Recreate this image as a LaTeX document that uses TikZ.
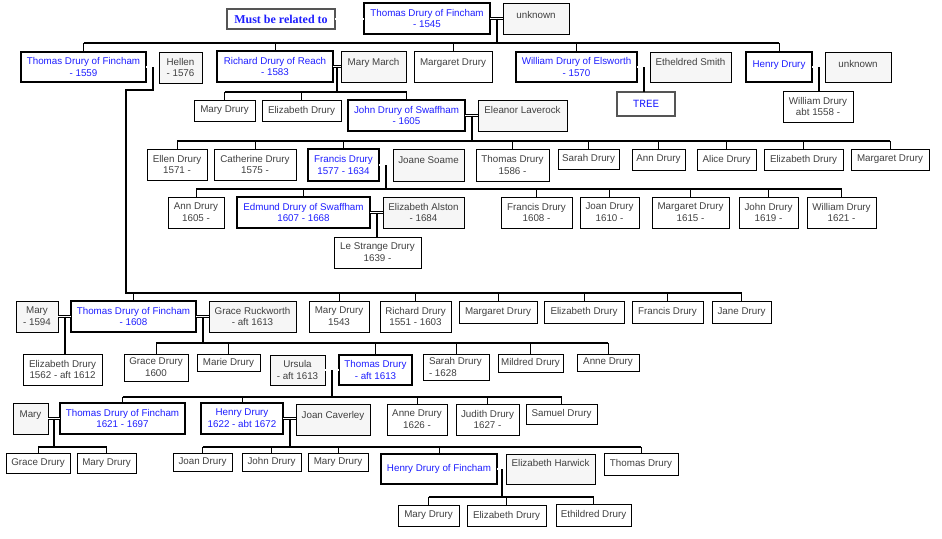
\documentclass[tikz,border=0pt]{standalone}
\usepackage{fontspec}
\setmainfont{Liberation Sans}
\newfontfamily\serifbf{Liberation Serif}
\newfontfamily\monofam{Liberation Mono}
\usetikzlibrary{calc}
\definecolor{blueT}{RGB}{30,30,255}
\definecolor{txtg}{RGB}{64,64,64}
\definecolor{boxg}{RGB}{85,85,85}
\definecolor{spf}{RGB}{246,246,246}
\newcommand\pers[7]{%
  \pgfmathsetmacro\pw{#5-#3}%
  \pgfmathsetmacro\ph{#6-#4}%
  \node[#1, minimum width=\pw pt, minimum height=\ph pt, anchor=north west] (#2) at (#3,#4) {#7};}
\newcommand\perst[8]{%
  \pers{#1}{#2}{#3}{#4}{#5}{#6}{}%
  \node[#1, draw=none, fill=none, path picture={}, anchor=base] (#2-t) at ([yshift=-#7pt]#2.north) {#8};}
\begin{document}
\begin{tikzpicture}[x=1pt,y=-1pt,
  base/.style={draw=black, line width=1pt, inner sep=0pt, outer sep=0pt, align=center,
    font=\fontsize{9.8}{11.8}\selectfont, text=txtg},
  norm/.style={base, fill=white},
  main/.style={base, line width=1.1pt, text=blueT, fill=white,
    path picture={\draw[black, line width=1.8pt]
      (path picture bounding box.south west) -- (path picture bounding box.south east)
      -- (path picture bounding box.north east);}},
  spouse/.style={base, fill=spf},
  mustbox/.style={base, draw=boxg, line width=2pt, fill=white, text=blueT,
    font=\serifbf\bfseries\fontsize{12}{14}\selectfont},
  treebox/.style={base, draw=boxg, line width=2pt, fill=white, text=blueT,
    font=\monofam\fontsize{11}{13}\selectfont},
  marr/.style={draw=black, double=white, line width=0.8pt, double distance=1.2pt},
  stem/.style={draw=black, line width=2pt, line join=miter},
  drop/.style={draw=black, line width=1pt}]
\useasboundingbox (0,0) rectangle (942,538);
\fill[white] (0,0) rectangle (942,538);

% ---- generation 1
\pers{mustbox}{must}{227}{9}{335}{29}{Must be related to}
\pers{main}{t1545}{364}{3}{490}{34}{Thomas Drury of Fincham\\- 1545}
\perst{spouse}{unk1}{503}{3}{569}{34}{15}{unknown}

% ---- generation 2
\pers{main}{t1559}{21}{52}{146}{82}{Thomas Drury of Fincham\\- 1559}
\pers{spouse}{hellen}{159}{52}{202}{83}{Hellen\\- 1576}
\pers{main}{richard}{217}{51}{333}{82}{Richard Drury of Reach\\- 1583}
\perst{spouse}{mmarch}{341}{51}{406}{82}{14}{Mary March}
\perst{norm}{margA}{414}{51}{492}{82}{14}{Margaret Drury}
\pers{main}{william}{516}{52}{637}{82}{William Drury of Elsworth\\- 1570}
\perst{spouse}{ethel}{650}{52}{731}{82}{13}{Etheldred Smith}
\perst{main}{henry}{746}{52}{812}{82}{15}{Henry Drury}
\perst{spouse}{unk2}{825}{52}{891}{82}{15}{unknown}
\pers{treebox}{tree}{617}{92}{675}{116}{TREE}
\pers{norm}{wm1558}{783}{91}{853}{122}{William Drury\\abt 1558 -}

% ---- generation 3
\pers{norm}{maryD1}{194}{100}{255}{121}{Mary Drury}
\pers{norm}{elizD1}{262}{100}{341}{121}{Elizabeth Drury}
\pers{main}{john}{348}{100}{465}{131}{John Drury of Swaffham\\- 1605}
\perst{spouse}{eleanor}{478}{100}{567}{131}{13}{Eleanor Laverock}

\pers{norm}{ellen}{147}{149}{207}{180}{Ellen Drury\\1571 -}
\pers{norm}{cath}{214}{149}{296}{180}{Catherine Drury\\1575 -}
\pers{main}{francis}{308}{149}{379}{181}{Francis Drury\\1577 - 1634}
\perst{spouse}{joane}{393}{149}{464}{181}{14}{Joane Soame}
\pers{norm}{thom86}{476}{149}{549}{181}{Thomas Drury\\1586 -}
\pers{norm}{sarah}{558}{149}{619}{169}{Sarah Drury}
\pers{norm}{annA}{632}{149}{685}{170}{Ann Drury}
\pers{norm}{alice}{697}{149}{756}{170}{Alice Drury}
\pers{norm}{elizA}{764}{149}{843}{170}{Elizabeth Drury}
\pers{norm}{margB}{851}{149}{929}{170}{Margaret Drury}

\pers{norm}{annB}{168}{197}{224}{228}{Ann Drury\\1605 -}
\pers{main}{edmund}{237}{197}{370}{228}{Edmund Drury of Swaffham\\1607 - 1668}
\pers{spouse}{alston}{383}{197}{464}{228}{Elizabeth Alston\\- 1684}
\pers{norm}{francB}{501}{197}{572}{228}{Francis Drury\\1608 -}
\pers{norm}{joanA}{580}{197}{639}{228}{Joan Drury\\1610 -}
\pers{norm}{margC}{652}{197}{729}{228}{Margaret Drury\\1615 -}
\pers{norm}{johnB}{739}{197}{798}{228}{John Drury\\1619 -}
\pers{norm}{willB}{807}{197}{876}{228}{William Drury\\1621 -}
\pers{norm}{lestr}{334}{237}{421}{268}{Le Strange Drury\\1639 -}

% ---- Fincham line
\pers{spouse}{maryS}{16}{301}{58}{332}{Mary\\- 1594}
\pers{main}{t1608}{71}{301}{196}{332}{Thomas Drury of Fincham\\- 1608}
\pers{spouse}{grace}{209}{301}{296}{332}{Grace Ruckworth\\- aft 1613}
\pers{norm}{mary43}{309}{301}{369}{332}{Mary Drury\\1543}
\pers{norm}{rich51}{380}{301}{451}{332}{Richard Drury\\1551 - 1603}
\pers{norm}{margD}{459}{301}{537}{323}{Margaret Drury}
\pers{norm}{elizB}{544}{301}{624}{323}{Elizabeth Drury}
\pers{norm}{francC}{632}{301}{703}{323}{Francis Drury}
\pers{norm}{jane}{712}{301}{771}{323}{Jane Drury}

\pers{norm}{eliz62}{23}{354}{102}{385}{Elizabeth Drury\\1562 - aft 1612}
\pers{norm}{graceD}{124}{354}{188}{381}{Grace Drury\\1600}
\pers{norm}{marie}{197}{354}{260}{371}{Marie Drury}
\pers{spouse}{ursula}{270}{355}{325}{385}{Ursula\\- aft 1613}
\pers{main}{thom13}{339}{355}{412}{385}{Thomas Drury\\- aft 1613}
\pers{norm}{sarah28}{423}{354}{489}{380}{}
\node[norm, draw=none, fill=none, anchor=west, align=left] (sarah28-t) at ([xshift=6pt]sarah28.west) {Sarah Drury\\- 1628};
\pers{norm}{mildred}{498}{354}{563}{372}{Mildred Drury}
\pers{norm}{anneA}{577}{354}{639}{371}{Anne Drury}

\perst{spouse}{maryT}{13}{403}{48}{434}{14}{Mary}
\pers{main}{t1621}{60}{403}{185}{434}{Thomas Drury of Fincham\\1621 - 1697}
\pers{main}{h1622}{201}{403}{283}{434}{Henry Drury\\1622 - abt 1672}
\perst{spouse}{joanC}{296}{404}{370}{435}{14}{Joan Caverley}
\pers{norm}{anneB}{387}{404}{447}{435}{Anne Drury\\1626 -}
\pers{norm}{judith}{456}{404}{519}{435}{Judith Drury\\1627 -}
\pers{norm}{samuel}{526}{404}{597}{424}{Samuel Drury}

\pers{norm}{graceE}{6}{453}{70}{473}{Grace Drury}
\pers{norm}{maryE}{77}{453}{136}{473}{Mary Drury}
\pers{norm}{joanD}{173}{453}{232}{471}{Joan Drury}
\pers{norm}{johnD}{242}{453}{301}{471}{John Drury}
\pers{norm}{maryF}{308}{453}{368}{471}{Mary Drury}
\pers{main}{hfinch}{381}{454}{497}{484}{Henry Drury of Fincham}
\perst{spouse}{harwick}{506}{454}{595}{484}{12}{Elizabeth Harwick}
\pers{norm}{thomD}{604}{453}{678}{475}{Thomas Drury}

\pers{norm}{maryG}{398}{505}{459}{526}{Mary Drury}
\pers{norm}{elizC}{467}{505}{546}{526}{Elizabeth Drury}
\pers{norm}{ethil}{556}{504}{631}{526}{Ethildred Drury}

% ---- connectors
\draw[marr] (must.east) -- (must.east -| t1545.west);

% Thomas 1545 family
\draw[marr] (t1545.east) -- (t1545.east -| unk1.west);
\coordinate (mA) at ($(t1545.east)!0.5!(t1545.east -| unk1.west)$);
\draw[stem] (mA) -- (mA |- 0,43);
\draw[stem] (t1559.north |- 0,43) -- (henry.north |- 0,43);
\foreach \c in {t1559,richard,margA,william,henry} \draw[drop] (\c.north |- 0,43) -- (\c.north);

% Thomas 1559 + Hellen
\draw[marr] (t1559.east) -- (t1559.east -| hellen.west);
\coordinate (mB) at ($(t1559.east)!0.5!(t1559.east -| hellen.west)$);
\coordinate (bendB) at (126,90);
\draw[stem] (mB) -- (mB |- bendB) -- (bendB) -- (bendB |- 0,293) -- (jane.north |- 0,293);
\foreach \c in {t1608,mary43,rich51,margD,elizB,francC,jane} \draw[drop] (\c.north |- 0,293) -- (\c.north);

% Richard + Mary March
\draw[marr] (richard.east) -- (richard.east -| mmarch.west);
\coordinate (mC) at ($(richard.east)!0.5!(richard.east -| mmarch.west)$);
\draw[stem] (mC) -- (mC |- 0,92);
\draw[stem] (maryD1.north |- 0,92) -- (john.north |- 0,92);
\foreach \c in {maryD1,elizD1,john} \draw[drop] (\c.north |- 0,92) -- (\c.north);

% William + Etheldred
\draw[marr] (william.east) -- (william.east -| ethel.west);
\coordinate (mD) at ($(william.east)!0.5!(william.east -| ethel.west)$);
\draw[stem] (mD) -- (mD |- tree.north);

% Henry + unknown
\draw[marr] (henry.east) -- (henry.east -| unk2.west);
\coordinate (mE) at ($(henry.east)!0.5!(henry.east -| unk2.west)$);
\draw[stem] (mE) -- (mE |- wm1558.north);

% John + Eleanor
\draw[marr] (john.east) -- (john.east -| eleanor.west);
\coordinate (mF) at ($(john.east)!0.5!(john.east -| eleanor.west)$);
\draw[stem] (mF) -- (mF |- 0,141);
\draw[stem] (ellen.north |- 0,141) -- (margB.north |- 0,141);
\foreach \c in {ellen,cath,francis,thom86,sarah,annA,alice,elizA,margB} \draw[drop] (\c.north |- 0,141) -- (\c.north);

% Francis + Joane
\draw[marr] (francis.east) -- (francis.east -| joane.west);
\coordinate (mG) at ($(francis.east)!0.5!(francis.east -| joane.west)$);
\draw[stem] (mG) -- (mG |- 0,189);
\draw[stem] (annB.north |- 0,189) -- (willB.north |- 0,189);
\foreach \c in {annB,edmund,francB,joanA,margC,johnB,willB} \draw[drop] (\c.north |- 0,189) -- (\c.north);

% Edmund + Elizabeth Alston
\draw[marr] (edmund.east) -- (edmund.east -| alston.west);
\coordinate (mH) at ($(edmund.east)!0.5!(edmund.east -| alston.west)$);
\draw[stem] (mH) -- (mH |- lestr.north);

% Mary + Thomas 1608
\draw[marr] (maryS.east) -- (maryS.east -| t1608.west);
\coordinate (mI) at ($(maryS.east)!0.5!(maryS.east -| t1608.west)$);
\draw[stem] (mI) -- (mI |- eliz62.north);

% Thomas 1608 + Grace
\draw[marr] (t1608.east) -- (t1608.east -| grace.west);
\coordinate (mJ) at ($(t1608.east)!0.5!(t1608.east -| grace.west)$);
\draw[stem] (mJ) -- (mJ |- 0,343);
\draw[stem] (graceD.north |- 0,343) -- (anneA.north |- 0,343);
\foreach \c in {graceD,marie,thom13,sarah28,mildred,anneA} \draw[drop] (\c.north |- 0,343) -- (\c.north);

% Ursula + Thomas
\draw[marr] (ursula.east) -- (ursula.east -| thom13.west);
\coordinate (mK) at ($(ursula.east)!0.5!(ursula.east -| thom13.west)$);
\draw[stem] (mK) -- (mK |- 0,397);
\draw[stem] (t1621.north |- 0,397) -- (samuel.north |- 0,397);
\foreach \c in {t1621,h1622,anneB,judith,samuel} \draw[drop] (\c.north |- 0,397) -- (\c.north);

% Mary + Thomas 1621
\draw[marr] (maryT.east) -- (maryT.east -| t1621.west);
\coordinate (mL) at ($(maryT.east)!0.5!(maryT.east -| t1621.west)$);
\draw[stem] (mL) -- (mL |- 0,447);
\draw[stem] (graceE.north |- 0,447) -- (maryE.north |- 0,447);
\foreach \c in {graceE,maryE} \draw[drop] (\c.north |- 0,447) -- (\c.north);

% Henry 1622 + Joan Caverley
\draw[marr] (h1622.east) -- (h1622.east -| joanC.west);
\coordinate (mM) at ($(h1622.east)!0.5!(h1622.east -| joanC.west)$);
\draw[stem] (mM) -- (mM |- 0,447);
\draw[stem] (joanD.north |- 0,447) -- (thomD.north |- 0,447);
\foreach \c in {joanD,johnD,maryF,hfinch,thomD} \draw[drop] (\c.north |- 0,447) -- (\c.north);

% Henry of Fincham + Elizabeth Harwick
\draw[marr] (hfinch.east) -- (hfinch.east -| harwick.west);
\coordinate (mN) at ($(hfinch.east)!0.5!(hfinch.east -| harwick.west)$);
\draw[stem] (mN) -- (mN |- 0,497);
\draw[stem] (maryG.north |- 0,497) -- (ethil.north |- 0,497);
\foreach \c in {maryG,elizC,ethil} \draw[drop] (\c.north |- 0,497) -- (\c.north);
\end{tikzpicture}
\end{document}
